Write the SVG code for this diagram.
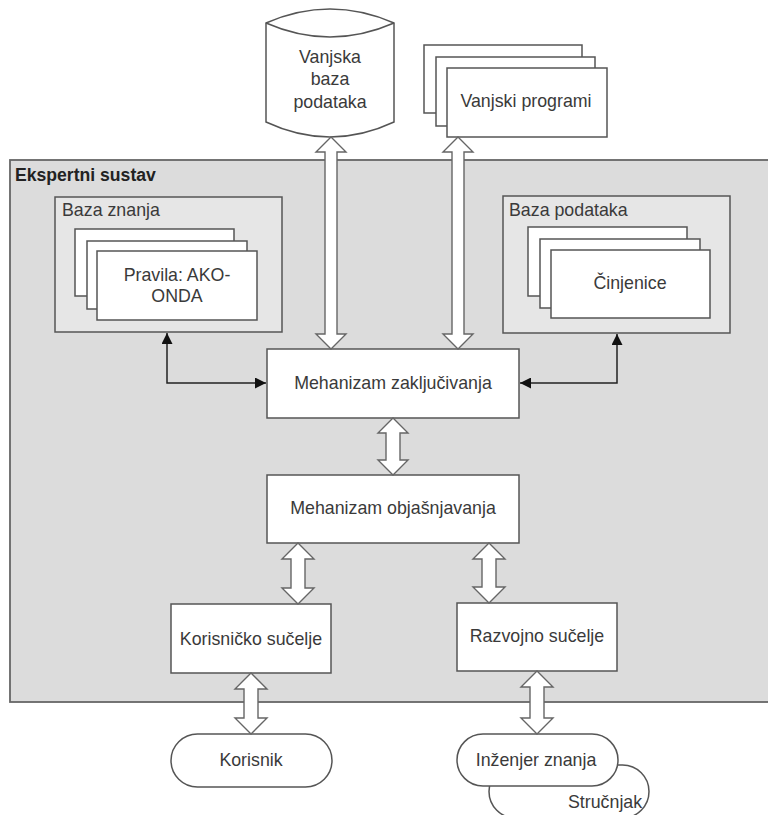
<svg xmlns="http://www.w3.org/2000/svg" width="768" height="815" viewBox="0 0 768 815">
<defs>
<style>
text{font-family:"Liberation Sans",Arial,sans-serif;font-size:17.8px;fill:#3a3a3a}
.c{text-anchor:middle}
.b{font-weight:bold;fill:#222;font-size:17.6px}
.box{fill:#fff;stroke:#555;stroke-width:1.5}
.grp{fill:#e6e6e6;stroke:#555;stroke-width:1.5}
.blk{fill:#fff;stroke:#666;stroke-width:1.4;stroke-linejoin:miter}
.thin{fill:none;stroke:#222;stroke-width:1.5}
</style>
<marker id="ah" viewBox="0 0 10 10" refX="10" refY="5" markerWidth="13" markerHeight="11" markerUnits="userSpaceOnUse" orient="auto-start-reverse">
<path d="M0 0 L10 5 L0 10 Z" fill="#111"/>
</marker>
</defs>

<g id="ekspertni-sustav">
<rect x="10" y="160" width="800" height="542" fill="#dcdcdc" stroke="#666" stroke-width="1.8"/>
<text x="15" y="181" class="b">Ekspertni sustav</text>
</g>

<g id="vanjska-baza">
<path d="M266 23 Q330 -5 394 23 L394 122 Q330 152 266 122 Z" class="box"/>
<path d="M266 23 Q330 51 394 23" fill="none" stroke="#555" stroke-width="1.5"/>
<text x="330" y="63" class="c">Vanjska</text>
<text x="330" y="85" class="c">baza</text>
<text x="330" y="108" class="c">podataka</text>
</g>

<g id="vanjski-programi">
<rect x="424" y="45" width="158" height="68" class="box"/>
<rect x="436" y="57" width="159" height="69" class="box"/>
<rect x="447" y="68" width="160" height="69" class="box"/>
<text x="526" y="107" class="c">Vanjski programi</text>
</g>

<g id="baza-znanja">
<rect x="55" y="197" width="227" height="135" class="grp"/>
<text x="62" y="216">Baza znanja</text>
<rect x="75" y="229" width="159" height="67" class="box"/>
<rect x="87" y="241" width="160" height="68" class="box"/>
<rect x="97" y="251" width="160" height="69" class="box"/>
<text x="177" y="281" class="c">Pravila: AKO-</text>
<text x="177" y="302" class="c">ONDA</text>
</g>

<g id="baza-podataka">
<rect x="503" y="196" width="227" height="137" class="grp"/>
<text x="509" y="216">Baza podataka</text>
<rect x="528" y="227" width="159" height="69" class="box"/>
<rect x="540" y="239" width="160" height="69" class="box"/>
<rect x="551" y="250" width="159" height="68" class="box"/>
<text x="630" y="289" class="c">Činjenice</text>
</g>

<g id="mehanizam-zakljucivanja">
<rect x="267" y="349" width="252" height="69" class="box"/>
<text x="393" y="389" class="c">Mehanizam zaključivanja</text>
</g>

<g id="mehanizam-objasnjavanja">
<rect x="267" y="475" width="252" height="68" class="box"/>
<text x="393" y="514" class="c">Mehanizam objašnjavanja</text>
</g>

<g id="korisnicko-sucelje">
<rect x="171" y="604" width="160" height="69" class="box"/>
<text x="251" y="645" class="c">Korisničko sučelje</text>
</g>

<g id="razvojno-sucelje">
<rect x="457" y="603" width="160" height="68" class="box"/>
<text x="537" y="642" class="c">Razvojno sučelje</text>
</g>

<g id="korisnik">
<rect x="171" y="734" width="161" height="53" rx="26.5" class="box"/>
<text x="251" y="766" class="c">Korisnik</text>
</g>

<g id="strucnjak">
<rect x="489" y="765" width="160" height="53" rx="26.5" class="box"/>
<text x="568" y="808">Stručnjak</text>
</g>

<g id="inzenjer-znanja">
<rect x="457" y="734" width="161" height="52" rx="26" class="box"/>
<text x="536" y="766" class="c">Inženjer znanja</text>
</g>

<g id="connectors">
<path class="thin" d="M167 333 V383 H266" marker-start="url(#ah)" marker-end="url(#ah)"/>
<path class="thin" d="M617 334 V383 H520" marker-start="url(#ah)" marker-end="url(#ah)"/>
<path class="blk" d="M331 137 L346 152 L337 152 L337 334 L346 334 L331 349 L316 334 L325 334 L325 152 L316 152 Z"/>
<path class="blk" d="M458 137 L473 152 L464 152 L464 334 L473 334 L458 349 L443 334 L452 334 L452 152 L443 152 Z"/>
<path class="blk" d="M393 418 L408 433 L400 433 L400 460 L408 460 L393 475 L378 460 L386 460 L386 433 L378 433 Z"/>
<path class="blk" d="M298 543 L314 559 L305 559 L305 588 L314 588 L298 604 L282 588 L291 588 L291 559 L282 559 Z"/>
<path class="blk" d="M489 543 L505 559 L496 559 L496 587 L505 587 L489 603 L473 587 L482 587 L482 559 L473 559 Z"/>
<path class="blk" d="M251 673 L267 689 L258 689 L258 718 L267 718 L251 734 L235 718 L244 718 L244 689 L235 689 Z"/>
<path class="blk" d="M537 671 L553 687 L544 687 L544 718 L553 718 L537 734 L521 718 L530 718 L530 687 L521 687 Z"/>
</g>
</svg>
